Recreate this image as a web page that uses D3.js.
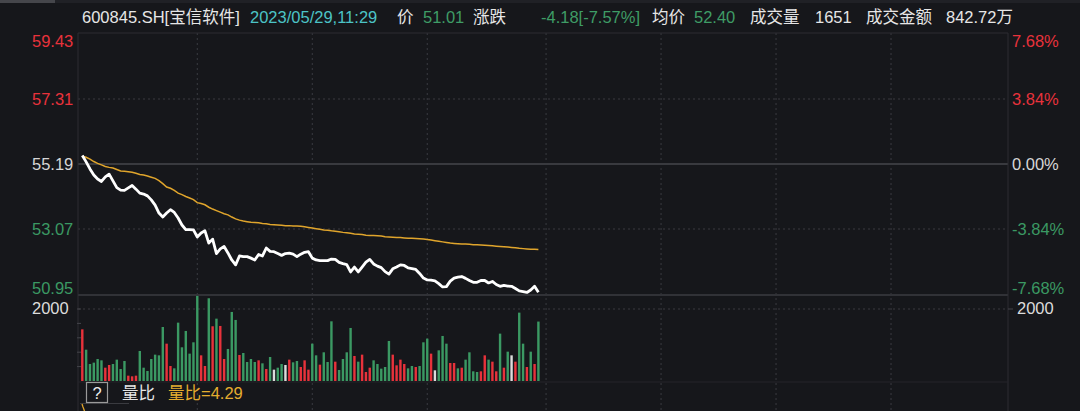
<!DOCTYPE html>
<html><head><meta charset="utf-8">
<script src="https://cdn.jsdelivr.net/npm/d3@7"></script>
<style>
html,body{margin:0;padding:0;background:#16171b;}
svg{display:block;font-family:"Liberation Sans","Noto Sans CJK SC",sans-serif;}
</style></head>
<body><svg id="c" width="1080" height="411"></svg>
<script>
// ---- data (minute index 0 = 09:30) ----
const prevClose = 55.19;
const priceTicks = [59.43, 57.31, 55.19, 53.07, 50.95];
const pctTicks = ["7.68%", "3.84%", "0.00%", "-3.84%", "-7.68%"];
const volTicks = [2000];
const gridMinutes = [30, 60, 90, 121, 151, 181, 211];
const price = [
55.47,55.26,55.03,54.83,54.70,54.62,54.77,54.86,54.64,54.42,
54.34,54.33,54.41,54.49,54.37,54.24,54.21,54.15,54.02,53.85,
53.59,53.46,53.59,53.70,53.61,53.43,53.20,53.05,53.05,53.04,
52.81,52.94,53.01,52.61,52.74,52.27,52.42,52.50,52.29,52.06,
51.90,52.19,52.17,52.17,52.12,52.06,52.24,52.19,52.45,52.34,
52.33,52.27,52.21,52.27,52.28,52.25,52.17,52.25,52.31,52.33,
52.12,52.06,52.04,52.04,52.04,52.09,52.08,51.98,51.94,51.91,
51.67,51.83,51.67,51.83,51.99,52.08,51.93,51.86,51.81,51.68,
51.60,51.77,51.83,51.90,51.88,51.80,51.78,51.75,51.62,51.47,
51.41,51.40,51.38,51.29,51.18,51.19,51.37,51.47,51.50,51.52,
51.46,51.39,51.33,51.33,51.39,51.39,51.31,51.36,51.26,51.20,
51.23,51.21,51.20,51.13,51.05,51.03,51.00,51.08,51.20,51.01];
const avgPrice = [
55.44,55.41,55.35,55.27,55.21,55.16,55.11,55.08,55.06,55.01,
54.96,54.95,54.94,54.92,54.89,54.85,54.83,54.80,54.76,54.72,
54.65,54.55,54.44,54.40,54.33,54.24,54.19,54.13,54.08,54.03,
53.93,53.90,53.86,53.78,53.72,53.67,53.62,53.57,53.53,53.46,
53.40,53.36,53.33,53.31,53.29,53.28,53.27,53.25,53.24,53.22,
53.21,53.20,53.19,53.18,53.18,53.17,53.17,53.16,53.14,53.12,
53.10,53.08,53.06,53.04,53.03,53.01,53.00,52.98,52.96,52.95,
52.93,52.91,52.90,52.89,52.87,52.86,52.86,52.85,52.84,52.82,
52.81,52.80,52.79,52.79,52.78,52.77,52.77,52.76,52.75,52.74,
52.73,52.71,52.69,52.67,52.65,52.63,52.61,52.60,52.59,52.58,
52.58,52.57,52.56,52.56,52.55,52.54,52.53,52.52,52.51,52.50,
52.49,52.48,52.47,52.46,52.44,52.43,52.42,52.41,52.41,52.40];
const volume = [
1435,870,472,510,611,574,370,445,472,593,
333,556,148,130,148,834,370,278,611,732,
713,1500,1037,417,352,1621,936,1390,760,1075,
2363,713,417,2298,1520,1732,1529,611,890,1918,
1696,723,778,528,611,528,574,491,333,667,
315,370,472,445,593,519,556,389,574,315,
1037,713,454,797,528,1658,537,306,611,797,
1473,695,537,732,250,370,574,472,343,389,
1112,732,435,593,472,352,417,389,417,1075,
1177,760,297,852,1251,1037,500,500,352,370,
593,797,269,250,269,713,593,537,269,1316,
370,815,713,537,1899,1037,389,815,472,1651];
// u = up minute (red), d = down (green), f = flat (white)
const volDir = [
"uddddduuddddUUUdddddddUUdddddddUUdUdUUdddUdddd",
"UdUdfddfUddUUUd",
"dUdddUddddUdUUUdddddUUUUddUdddUfdddUUdUddddUUdUUdUdfUddUdUd"
].join("").toLowerCase().split("");
const header = [
  {t:"600845.SH[宝信软件]", x:82, c:"#e6e6e6"},
  {t:"2023/05/29,11:29", x:250, c:"#4cc3c6"},
  {t:"价", x:397, c:"#e6e6e6"},
  {t:"51.01", x:423, c:"#3f9c66"},
  {t:"涨跌", x:473, c:"#e6e6e6"},
  {t:"-4.18[-7.57%]", x:541, c:"#3f9c66"},
  {t:"均价", x:652, c:"#e6e6e6"},
  {t:"52.40", x:694, c:"#3f9c66"},
  {t:"成交量", x:750, c:"#e6e6e6"},
  {t:"1651", x:815, c:"#e6e6e6"},
  {t:"成交金额", x:866, c:"#e6e6e6"},
  {t:"842.72万", x:946, c:"#e6e6e6"}
];

// ---- drawing ----
const svg = d3.select("#c");
const L = 78, R = 1008, T = 33, PB = 295, VB = 381;
const x = d3.scaleLinear().domain([0, 241]).range([82.3, 1006]);
const y = d3.scaleLinear().domain([50.95, 59.43]).range([294, 34]);
const yv = d3.scaleLinear().domain([0, 2000]).range([VB, 309]);
const red = "#e8323b", green = "#3b9963", white = "#dcdcdc";

svg.append("rect").attr("width",1080).attr("height",411).attr("fill","#16171b");
// top strip
svg.append("rect").attr("x",0).attr("y",0).attr("width",1080).attr("height",3).attr("fill","#202126");
svg.append("rect").attr("x",0).attr("y",0).attr("width",55).attr("height",3).attr("fill","#45464b");

// header
svg.append("g").selectAll("text").data(header).join("text")
  .attr("x", d=>d.x).attr("y", 23).attr("fill", d=>d.c)
  .attr("font-size", 16.5).text(d=>d.t);

// grid
const g = svg.append("g");
g.selectAll(".vg").data(gridMinutes).join("line")
  .attr("x1", d=>x(d)).attr("x2", d=>x(d)).attr("y1", T).attr("y2", 411)
  .attr("stroke","#3a3b41").attr("stroke-dasharray","2,3");
g.selectAll(".hg").data([57.31, 53.07]).join("line").attr("class","hg")
  .attr("x1", L).attr("x2", R).attr("y1", d=>y(d)).attr("y2", d=>y(d))
  .attr("stroke","#3a3b41").attr("stroke-dasharray","2,3");
g.selectAll(".vgl").data(volTicks).join("line").attr("class","vgl")
  .attr("x1", L).attr("x2", R).attr("y1", d=>yv(d)).attr("y2", d=>yv(d))
  .attr("stroke","#3a3b41").attr("stroke-dasharray","2,3");
g.append("line").attr("x1",L).attr("x2",R).attr("y1",y(prevClose)).attr("y2",y(prevClose))
  .attr("stroke","#393a3f").attr("stroke-width",2);
g.append("line").attr("x1",L).attr("x2",R).attr("y1",T).attr("y2",T).attr("stroke","#2c2d32");
g.append("line").attr("x1",L).attr("x2",R).attr("y1",PB).attr("y2",PB).attr("stroke","#313237").attr("stroke-width",2);
g.append("line").attr("x1",L).attr("x2",L).attr("y1",T).attr("y2",411).attr("stroke","#2c2d32");
g.append("line").attr("x1",R).attr("x2",R).attr("y1",T).attr("y2",411).attr("stroke","#2c2d32");
g.append("line").attr("x1",L).attr("x2",R).attr("y1",VB+1).attr("y2",VB+1).attr("stroke","#24252a");
// volume ticks on left edge
g.selectAll(".vt").data([400,800,1200,1600,2000]).join("line").attr("class","vt")
  .attr("x1",L-1).attr("x2",L+3).attr("y1",d=>yv(d)).attr("y2",d=>yv(d)).attr("stroke","#44454a");
g.append("line").attr("x1",R).attr("x2",R+5).attr("y1",yv(2000)).attr("y2",yv(2000)).attr("stroke","#44454a");

// volume bars
svg.append("g").selectAll("rect").data(volume).join("rect")
  .attr("x", (d,i)=>x(i)-1.2).attr("width", 2.4)
  .attr("y", d=>yv(d)).attr("height", d=>VB - yv(d))
  .attr("fill", (d,i)=> volDir[i]==="u" ? red : volDir[i]==="f" ? white : green);

// lines
svg.append("path").datum(avgPrice)
  .attr("d", d3.line().x((d,i)=>x(i)).y(d=>y(d)))
  .attr("fill","none").attr("stroke","#e0a52c").attr("stroke-width",1.5);
svg.append("path").datum(price)
  .attr("d", d3.line().x((d,i)=>x(i)).y(d=>y(d)))
  .attr("fill","none").attr("stroke","#ffffff").attr("stroke-width",2.8)
  .attr("stroke-linejoin","round");

// axis labels
const lblY = (v,i)=> i===0 ? y(v)+7.5 : i===priceTicks.length-1 ? y(v)-6 : y(v);
const lblC = v => v > prevClose ? red : v < prevClose ? green : "#d6d6d6";
svg.append("g").selectAll("text").data(priceTicks).join("text")
  .attr("x", 32).attr("y", (d,i)=>lblY(d,i)).attr("dy","0.36em")
  .attr("font-size",16.5).attr("fill", d=>lblC(d)).text(d=>d.toFixed(2));
svg.append("g").selectAll("text").data(pctTicks).join("text")
  .attr("x", 1012).attr("y", (d,i)=>lblY(priceTicks[i],i)).attr("dy","0.36em")
  .attr("font-size",16.5).attr("fill", (d,i)=>lblC(priceTicks[i])).text(d=>d);
svg.append("g").selectAll("text").data(volTicks).join("text")
  .attr("x",32).attr("y",d=>yv(d)-1).attr("dy","0.36em").attr("font-size",16.5).attr("fill","#dcdcdc").text(d=>d);
svg.append("g").selectAll("text").data(volTicks).join("text")
  .attr("x",1017).attr("y",d=>yv(d)-1).attr("dy","0.36em").attr("font-size",16.5).attr("fill","#dcdcdc").text(d=>d);

// bottom legend
svg.append("line").attr("x1",80).attr("x2",129).attr("y1",403.5).attr("y2",403.5).attr("stroke","#3a3b40");
svg.append("path").attr("d","M82,404 L83,407 L84.5,411").attr("fill","none").attr("stroke","#e0a52c").attr("stroke-width",1.3);
svg.append("rect").attr("x",86.5).attr("y",382.5).attr("width",21).attr("height",20)
  .attr("fill","#16171b").attr("stroke","#9a9a9a").attr("stroke-width",1.2);
svg.append("text").attr("x",97).attr("y",399).attr("text-anchor","middle").attr("font-size",16.5).attr("fill","#eaeaea").text("?");
svg.append("text").attr("x",122).attr("y",399).attr("font-size",16.5).attr("fill","#e6e6e6").text("量比");
svg.append("text").attr("x",168).attr("y",399).attr("font-size",16.5).attr("fill","#e5ad2f").text("量比=4.29");
</script></body></html>
